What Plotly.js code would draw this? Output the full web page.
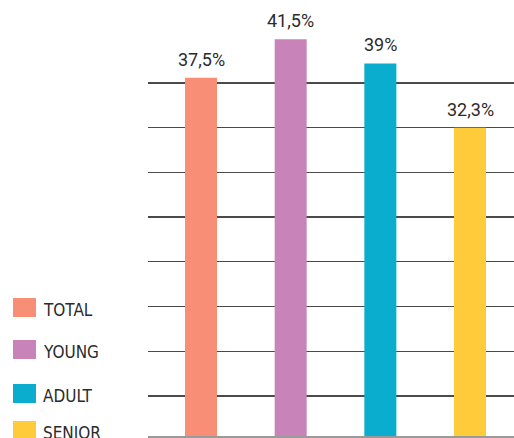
<!DOCTYPE html>
<html>
<head>
<meta charset="utf-8">
<script src="https://cdn.plot.ly/plotly-3.0.1.min.js"></script>
<style>
html,body{margin:0;padding:0;background:#fff;}
#chart{width:514px;height:438px;}
</style>
</head>
<body>
<div id="chart"></div>
<script>
// ---- data ----
var categories = ["TOTAL", "YOUNG", "ADULT", "SENIOR"];
var values = [37.5, 41.5, 39, 32.3];
var valueLabels = ["37,5%", "41,5%", "39%", "32,3%"];
var colors = ["#F88E75", "#C884B8", "#0AADCE", "#FECB3A"];

// ---- layout constants (styling only) ----
var W = 514, H = 438;
var ML = 148, MR = 0, MT = 0, MB = 0;
var pxPerUnit = 9.62;
var zeroPx = 438.6;               // pixel row of value 0
var basePx = 437;                 // pixel row of the grey base line
var gridTopPx = 83, gridStepPx = 44.7, gridCount = 8;
var plotW = W - ML - MR, plotH = H - MT - MB;
var catStepPx = 89.67, firstCatPx = 201;

var yMin = -(plotH - zeroPx) / pxPerUnit;
var yMax = zeroPx / pxPerUnit;
var gridVals = [];
for (var g = 0; g < gridCount; g++) {
  gridVals.push((zeroPx - (gridTopPx + g * gridStepPx)) / pxPerUnit);
}
var xMin = (ML - firstCatPx) / catStepPx;
var xMax = (W - MR - firstCatPx) / catStepPx;

var trace = {
  type: "bar",
  x: categories,
  y: values,
  width: 32 / catStepPx,
  marker: {color: colors, line: {width: 0}},
  hoverinfo: "skip",
  showlegend: false,
  cliponaxis: true
};

var annotations = [];
var shapes = [];
for (var i = 0; i < categories.length; i++) {
  annotations.push({
    x: categories[i], y: values[i], xref: "x", yref: "y",
    text: valueLabels[i], showarrow: false,
    xanchor: "center", yanchor: "bottom", yshift: 6,
    font: {family: "Roboto, sans-serif", size: 18, color: "#2b2b2b"}
  });
}

function px2paperX(px) { return (px - ML) / plotW; }
function px2paperY(py) { return (H - MB - py) / plotH; }

// grey base line
shapes.push({
  type: "line", xref: "paper", yref: "paper", layer: "above",
  x0: 0, x1: 1, y0: px2paperY(basePx), y1: px2paperY(basePx),
  line: {color: "#9a9a9a", width: 2}
});

// manual legend (sizes in pixels -> paper coords)
var legendTopPx = [298, 340, 384, 421];
for (var j = 0; j < categories.length; j++) {
  var boxTop = legendTopPx[j];
  shapes.push({
    type: "rect", xref: "paper", yref: "paper", layer: "above",
    x0: px2paperX(13), x1: px2paperX(36),
    y0: px2paperY(boxTop + 19), y1: px2paperY(boxTop),
    fillcolor: colors[j], line: {width: 0}
  });
  annotations.push({
    xref: "paper", yref: "paper",
    x: px2paperX(41), y: px2paperY(boxTop + 11.5),
    xanchor: "left", yanchor: "middle", showarrow: false,
    text: categories[j],
    font: {family: "DejaVu Sans Condensed, Roboto, sans-serif", size: 17, color: "#2b2b2b"}
  });
}

var layout = {
  width: W, height: H,
  margin: {l: ML, r: MR, t: MT, b: MB, pad: 0},
  paper_bgcolor: "#ffffff",
  plot_bgcolor: "#ffffff",
  showlegend: false,
  xaxis: {
    type: "category",
    range: [xMin, xMax],
    showgrid: false, zeroline: false, showline: false,
    showticklabels: false, ticks: "", fixedrange: true
  },
  yaxis: {
    range: [yMin, yMax],
    tickmode: "array", tickvals: gridVals,
    showgrid: true, gridcolor: "#4a4a4a", gridwidth: 1.3,
    zeroline: false,
    showline: false, showticklabels: false, ticks: "", fixedrange: true
  },
  annotations: annotations,
  shapes: shapes
};

Plotly.newPlot("chart", [trace], layout, {displayModeBar: false, staticPlot: true});
</script>
</body>
</html>
